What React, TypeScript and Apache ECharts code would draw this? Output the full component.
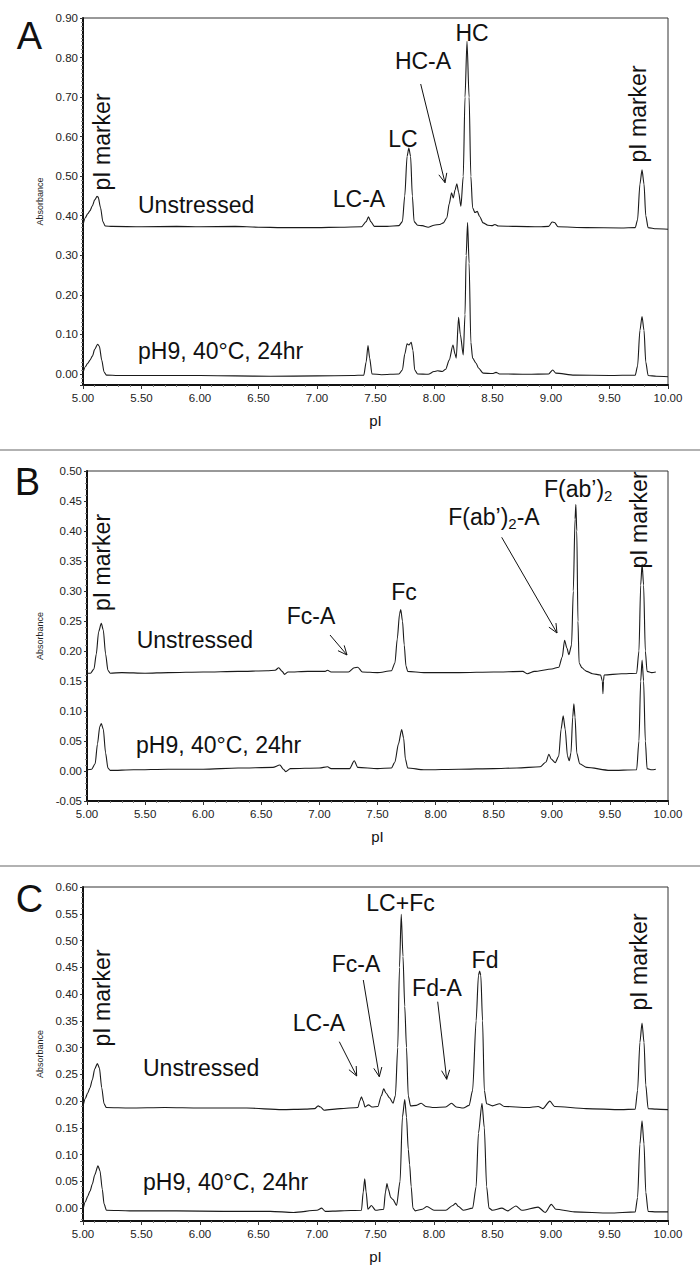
import React, { useEffect, useRef } from "react";
import * as echarts from "echarts";

const FONT = '"Liberation Sans", Arial, Helvetica, sans-serif';

// pI axis ticks
const xTicks = [5.0, 5.5, 6.0, 6.5, 7.0, 7.5, 8.0, 8.5, 9.0, 9.5, 10.0];

// Panel A traces [pI, absorbance]
const aUnstressed: number[][] = [
  [5.0, 0.377], [5.02, 0.395], [5.04, 0.405], [5.06, 0.413], [5.08, 0.425], [5.1, 0.44], [5.12, 0.449], [5.13, 0.447],
  [5.15, 0.42], [5.17, 0.385], [5.19, 0.374], [5.25, 0.373], [5.5, 0.372], [5.8, 0.373], [6.0, 0.372], [6.3, 0.373],
  [6.5, 0.371], [6.7, 0.37], [7.0, 0.37], [7.2, 0.371], [7.38, 0.372], [7.42, 0.385], [7.44, 0.397], [7.46, 0.385],
  [7.49, 0.373], [7.6, 0.373], [7.7, 0.375], [7.73, 0.385], [7.75, 0.45], [7.77, 0.55], [7.785, 0.571], [7.8, 0.55],
  [7.815, 0.45], [7.83, 0.385], [7.86, 0.376], [7.9, 0.375], [7.95, 0.371], [8.0, 0.376], [8.05, 0.378], [8.08, 0.382],
  [8.11, 0.395], [8.13, 0.43], [8.15, 0.458], [8.165, 0.445], [8.18, 0.465], [8.195, 0.481], [8.21, 0.46], [8.23, 0.424],
  [8.25, 0.5], [8.265, 0.7], [8.282, 0.841], [8.3, 0.7], [8.315, 0.5], [8.33, 0.42], [8.35, 0.408], [8.37, 0.411],
  [8.39, 0.398], [8.42, 0.382], [8.46, 0.376], [8.5, 0.375], [8.52, 0.378], [8.55, 0.374], [8.7, 0.373], [8.9, 0.372],
  [8.98, 0.373], [9.01, 0.384], [9.03, 0.383], [9.06, 0.372], [9.3, 0.37], [9.6, 0.369], [9.72, 0.37], [9.74, 0.39],
  [9.76, 0.48], [9.778, 0.516], [9.795, 0.48], [9.81, 0.4], [9.83, 0.37], [9.9, 0.367], [10.0, 0.366],
];
const aStressed: number[][] = [
  [5.0, 0.002], [5.02, 0.018], [5.04, 0.027], [5.06, 0.035], [5.08, 0.045], [5.1, 0.062], [5.125, 0.075], [5.14, 0.07],
  [5.16, 0.035], [5.18, 0.005], [5.2, -0.003], [5.3, -0.004], [5.6, -0.004], [6.0, -0.004], [6.3, -0.005], [6.6, -0.006],
  [7.0, -0.005], [7.3, -0.004], [7.4, -0.003], [7.42, 0.03], [7.436, 0.072], [7.45, 0.04], [7.47, 0.0], [7.55, -0.002],
  [7.7, 0.0], [7.73, 0.01], [7.75, 0.05], [7.77, 0.076], [7.785, 0.073], [7.805, 0.08], [7.82, 0.06], [7.835, 0.01],
  [7.86, 0.0], [7.95, -0.001], [8.0, 0.006], [8.03, 0.008], [8.07, 0.006], [8.1, 0.012], [8.13, 0.035], [8.162, 0.073],
  [8.18, 0.05], [8.19, 0.04], [8.21, 0.143], [8.225, 0.1], [8.25, 0.048], [8.265, 0.15], [8.275, 0.3], [8.287, 0.383],
  [8.3, 0.28], [8.315, 0.08], [8.33, 0.04], [8.36, 0.027], [8.38, 0.015], [8.42, 0.002], [8.5, 0.001], [8.53, 0.004],
  [8.56, 0.0], [8.8, -0.001], [8.98, 0.0], [9.015, 0.01], [9.04, 0.002], [9.2, -0.003], [9.5, -0.004], [9.72, -0.003],
  [9.74, 0.02], [9.76, 0.11], [9.778, 0.145], [9.795, 0.11], [9.81, 0.03], [9.83, -0.004], [9.9, -0.006], [10.0, -0.007],
];

// Panel B traces
const bUnstressed: number[][] = [
  [5.0, 0.163], [5.03, 0.163], [5.06, 0.17], [5.08, 0.195], [5.1, 0.232], [5.123, 0.246], [5.14, 0.235], [5.16, 0.195],
  [5.18, 0.168], [5.2, 0.163], [5.3, 0.164], [5.5, 0.163], [5.7, 0.164], [6.0, 0.165], [6.3, 0.166], [6.55, 0.167],
  [6.62, 0.168], [6.65, 0.172], [6.68, 0.166], [6.7, 0.161], [6.73, 0.165], [6.9, 0.166], [7.05, 0.166], [7.07, 0.168],
  [7.1, 0.165], [7.25, 0.165], [7.3, 0.172], [7.33, 0.173], [7.37, 0.165], [7.5, 0.164], [7.62, 0.167], [7.65, 0.18],
  [7.67, 0.22], [7.69, 0.262], [7.7, 0.269], [7.715, 0.25], [7.73, 0.21], [7.745, 0.175], [7.76, 0.166], [7.9, 0.164],
  [8.2, 0.164], [8.5, 0.165], [8.75, 0.166], [8.79, 0.162], [8.85, 0.166], [9.0, 0.17], [9.06, 0.173], [9.09, 0.19],
  [9.11, 0.218], [9.13, 0.205], [9.147, 0.194], [9.17, 0.21], [9.185, 0.3], [9.2, 0.42], [9.207, 0.444], [9.215, 0.4],
  [9.225, 0.25], [9.235, 0.18], [9.26, 0.172], [9.285, 0.168], [9.3, 0.166], [9.35, 0.162], [9.42, 0.16], [9.435, 0.15],
  [9.44, 0.129], [9.445, 0.15], [9.45, 0.16], [9.6, 0.162], [9.73, 0.163], [9.75, 0.2], [9.765, 0.31], [9.777, 0.345],
  [9.79, 0.31], [9.805, 0.2], [9.82, 0.166], [9.86, 0.164], [9.895, 0.165],
];
const bStressed: number[][] = [
  [5.0, 0.002], [5.04, 0.003], [5.07, 0.012], [5.09, 0.045], [5.11, 0.074], [5.123, 0.079], [5.14, 0.07], [5.16, 0.03],
  [5.18, 0.005], [5.2, 0.001], [5.4, 0.002], [5.7, 0.003], [6.0, 0.003], [6.3, 0.005], [6.6, 0.006], [6.66, 0.01],
  [6.69, 0.003], [6.71, -0.001], [6.75, 0.004], [7.0, 0.005], [7.07, 0.007], [7.1, 0.004], [7.26, 0.004], [7.3, 0.017],
  [7.33, 0.006], [7.5, 0.004], [7.62, 0.005], [7.65, 0.015], [7.68, 0.045], [7.708, 0.069], [7.725, 0.055], [7.74, 0.02],
  [7.76, 0.005], [7.9, 0.002], [8.2, 0.003], [8.5, 0.004], [8.7, 0.005], [8.9, 0.007], [8.95, 0.015], [8.975, 0.028],
  [8.995, 0.02], [9.03, 0.014], [9.06, 0.025], [9.08, 0.07], [9.098, 0.092], [9.115, 0.07], [9.135, 0.025], [9.15, 0.017],
  [9.165, 0.03], [9.18, 0.09], [9.19, 0.112], [9.2, 0.09], [9.215, 0.03], [9.24, 0.012], [9.3, 0.006], [9.5, 0.001],
  [9.73, 0.002], [9.75, 0.05], [9.765, 0.15], [9.777, 0.185], [9.79, 0.15], [9.805, 0.05], [9.82, 0.004], [9.86, 0.002],
  [9.895, 0.003],
];

// Panel C traces
const cUnstressed: number[][] = [
  [5.0, 0.19], [5.02, 0.205], [5.04, 0.215], [5.06, 0.225], [5.08, 0.24], [5.1, 0.26], [5.123, 0.27], [5.14, 0.262],
  [5.16, 0.225], [5.18, 0.195], [5.2, 0.188], [5.4, 0.187], [5.7, 0.188], [6.0, 0.187], [6.4, 0.187], [6.7, 0.184],
  [6.9, 0.185], [6.98, 0.186], [7.01, 0.191], [7.03, 0.189], [7.06, 0.183], [7.2, 0.186], [7.35, 0.188], [7.365, 0.2],
  [7.38, 0.208], [7.395, 0.2], [7.41, 0.189], [7.44, 0.193], [7.47, 0.189], [7.52, 0.19], [7.55, 0.21], [7.57, 0.223],
  [7.59, 0.215], [7.62, 0.206], [7.65, 0.196], [7.67, 0.21], [7.69, 0.3], [7.705, 0.45], [7.72, 0.549], [7.735, 0.47],
  [7.75, 0.377], [7.765, 0.3], [7.78, 0.21], [7.8, 0.191], [7.85, 0.192], [7.89, 0.196], [7.93, 0.19], [8.0, 0.188],
  [8.1, 0.189], [8.15, 0.196], [8.19, 0.189], [8.25, 0.187], [8.3, 0.192], [8.33, 0.22], [8.36, 0.35], [8.38, 0.435],
  [8.39, 0.443], [8.4, 0.435], [8.415, 0.35], [8.43, 0.22], [8.45, 0.195], [8.5, 0.191], [8.56, 0.195], [8.6, 0.19],
  [8.8, 0.188], [8.89, 0.19], [8.93, 0.186], [8.99, 0.2], [9.03, 0.19], [9.3, 0.186], [9.6, 0.184], [9.72, 0.185],
  [9.74, 0.22], [9.76, 0.31], [9.778, 0.346], [9.795, 0.31], [9.81, 0.23], [9.83, 0.186], [9.9, 0.185], [10.0, 0.184],
];
const cStressed: number[][] = [
  [5.0, -0.003], [5.02, 0.012], [5.04, 0.022], [5.06, 0.032], [5.08, 0.045], [5.1, 0.062], [5.128, 0.079], [5.145, 0.07],
  [5.165, 0.035], [5.18, 0.008], [5.2, -0.004], [5.4, -0.005], [5.8, -0.005], [6.2, -0.006], [6.6, -0.006], [6.8, -0.008],
  [7.0, -0.004], [7.04, 0.0], [7.07, -0.006], [7.2, -0.005], [7.38, -0.004], [7.395, 0.03], [7.408, 0.055], [7.42, 0.03],
  [7.435, -0.002], [7.465, 0.005], [7.5, -0.004], [7.57, -0.002], [7.585, 0.03], [7.598, 0.046], [7.61, 0.035], [7.63, 0.02],
  [7.65, 0.016], [7.68, 0.005], [7.71, 0.05], [7.73, 0.17], [7.75, 0.203], [7.765, 0.17], [7.78, 0.11], [7.792, 0.081],
  [7.805, 0.04], [7.82, 0.0], [7.84, -0.005], [7.9, -0.002], [7.94, 0.003], [8.0, -0.004], [8.1, -0.004], [8.16, 0.005],
  [8.185, 0.009], [8.21, 0.003], [8.25, -0.004], [8.33, 0.0], [8.36, 0.04], [8.38, 0.14], [8.41, 0.196], [8.43, 0.15],
  [8.45, 0.04], [8.47, 0.0], [8.5, -0.004], [8.58, 0.0], [8.63, -0.005], [8.7, 0.004], [8.75, -0.004], [8.89, 0.002],
  [8.95, -0.008], [9.003, 0.007], [9.04, -0.002], [9.2, -0.007], [9.5, -0.009], [9.72, -0.007], [9.74, 0.02], [9.76, 0.12],
  [9.778, 0.163], [9.795, 0.12], [9.81, 0.03], [9.83, -0.006], [9.9, -0.007], [10.0, -0.007],
];

// Axis ranges per panel
const yMin = [-0.028, -0.05, -0.024];
const yMax = [0.9, 0.5, 0.6];
const yStep = [0.1, 0.05, 0.05];
const yMinor = [10, 5, 5];

const traces = [
  [aUnstressed, aStressed],
  [bUnstressed, bStressed],
  [cUnstressed, cStressed],
];

const grids = [
  { left: 83, top: 18, right: 32, height: 367 },
  { left: 87, top: 471, right: 32, height: 330 },
  { left: 83, top: 887, right: 32, height: 334 },
];

function txt(text: string, x: number, y: number, opts: any = {}) {
  return {
    type: "text",
    x,
    y,
    rotation: opts.rot || 0,
    z: 10,
    style: {
      text,
      fill: "#111",
      fontSize: opts.size || 23,
      fontFamily: FONT,
      align: opts.align || "center",
      verticalAlign: "middle",
      rich: opts.rich,
    },
  };
}

function arrow(x1: number, y1: number, x2: number, y2: number) {
  const ang = Math.atan2(y2 - y1, x2 - x1);
  const L = 10;
  const s = 0.42;
  const p1 = [x2 - L * Math.cos(ang - s), y2 - L * Math.sin(ang - s)];
  const p2 = [x2 - L * Math.cos(ang + s), y2 - L * Math.sin(ang + s)];
  return [
    { type: "line", z: 10, shape: { x1, y1, x2, y2 }, style: { stroke: "#111", lineWidth: 1 } },
    { type: "polyline", z: 10, shape: { points: [p1, [x2, y2], p2] }, style: { stroke: "#111", lineWidth: 1, fill: null } },
  ];
}

const subRich = {
  a: { fontSize: 23, fontFamily: FONT, fill: "#111" },
  s: { fontSize: 15, fontFamily: FONT, fill: "#111", padding: [12, 0, 0, 0] },
};

export default function App() {
  const ref = useRef<HTMLDivElement>(null);
  useEffect(() => {
    if (!ref.current) return;
    const chart = echarts.init(ref.current, null, { renderer: "svg" });
    const fmtY = (i: number) => (v: number) =>
      Math.abs(v / yStep[i] - Math.round(v / yStep[i])) < 1e-6 ? v.toFixed(2) : "";

    const xAxis = grids.map((_, i) => ({
      type: "value",
      gridIndex: i,
      min: xTicks[0],
      max: xTicks[xTicks.length - 1],
      interval: 0.5,
      axisLine: { show: true, onZero: false, lineStyle: { color: "#111", width: 2 } },
      axisTick: { show: true, length: 4, lineStyle: { color: "#333" } },
      minorTick: { show: true, splitNumber: 5, length: 2, lineStyle: { color: "#777" } },
      splitLine: { show: false },
      axisLabel: { formatter: (v: number) => v.toFixed(2), fontSize: 11.5, color: "#222", fontFamily: FONT, margin: 7 },
      name: "pI",
      nameLocation: "middle",
      nameGap: 28,
      nameTextStyle: { fontSize: 15, color: "#111", fontFamily: FONT },
    }));
    const yAxis = grids.map((_, i) => ({
      type: "value",
      gridIndex: i,
      min: yMin[i],
      max: yMax[i],
      minInterval: yStep[i],
      maxInterval: yStep[i],
      axisLine: { show: true, onZero: false, lineStyle: { color: "#111", width: 2 } },
      axisTick: { show: true, length: 3, lineStyle: { color: "#333" } },
      minorTick: { show: true, splitNumber: yMinor[i], length: 2, lineStyle: { color: "#888" } },
      splitLine: { show: false },
      axisLabel: { formatter: fmtY(i), fontSize: 11.5, color: "#222", fontFamily: FONT, margin: 5, showMinLabel: true },
      name: "Absorbance",
      nameLocation: "middle",
      nameGap: 34,
      nameTextStyle: { fontSize: 9, color: "#222", fontFamily: FONT },
    }));
    const series: any[] = [];
    traces.forEach((pair, i) =>
      pair.forEach((d) =>
        series.push({
          type: "line",
          xAxisIndex: i,
          yAxisIndex: i,
          data: d,
          showSymbol: false,
          symbol: "none",
          smooth: 0.25,
          smoothMonotone: "x",
          lineStyle: { color: "#1a1a1a", width: 1.1 },
        })
      )
    );

    const graphic: any[] = [
      { type: "line", shape: { x1: 0, y1: 450, x2: 700, y2: 450 }, style: { stroke: "#999", lineWidth: 1.5 } },
      { type: "line", shape: { x1: 0, y1: 866, x2: 700, y2: 866 }, style: { stroke: "#999", lineWidth: 1.5 } },
      // Panel A
      txt("A", 29.5, 36, { size: 38 }),
      txt("pI marker", 102, 142, { rot: Math.PI / 2 }),
      txt("Unstressed", 138, 205, { align: "left" }),
      txt("pH9, 40°C, 24hr", 138, 350.5, { align: "left" }),
      txt("LC-A", 359, 199),
      txt("LC", 403, 139),
      txt("HC-A", 423, 61),
      txt("HC", 472, 33),
      txt("pI marker", 638, 114, { rot: Math.PI / 2 }),
      ...arrow(420.7, 84, 445, 182.7),
      // Panel B
      txt("B", 27.5, 482, { size: 38 }),
      txt("pI marker", 102, 562.5, { rot: Math.PI / 2 }),
      txt("Unstressed", 136.7, 640, { align: "left" }),
      txt("pH9, 40°C, 24hr", 136, 745, { align: "left" }),
      txt("Fc-A", 311, 616),
      ...arrow(330, 635, 347, 655),
      txt("Fc", 404, 592),
      txt("{a|F(ab’)}{s|2}{a|-A}", 448.3, 517, { align: "left", rich: subRich }),
      ...arrow(501.7, 537.3, 557, 633),
      txt("{a|F(ab’)}{s|2}", 544, 489, { align: "left", rich: subRich }),
      txt("pI marker", 639, 520, { rot: Math.PI / 2 }),
      // Panel C
      txt("C", 29.5, 899, { size: 38 }),
      txt("pI marker", 102, 998, { rot: Math.PI / 2 }),
      txt("Unstressed", 143, 1068, { align: "left" }),
      txt("pH9, 40°C, 24hr", 143, 1182, { align: "left" }),
      txt("LC-A", 319, 1023),
      ...arrow(339.3, 1041.7, 356.7, 1076),
      txt("Fc-A", 356, 964),
      ...arrow(363.3, 980, 379.3, 1076.7),
      txt("LC+Fc", 400.5, 902.5),
      txt("Fd-A", 437, 988),
      ...arrow(437.7, 1001.7, 446.7, 1079.3),
      txt("Fd", 485, 959.5),
      txt("pI marker", 639, 962, { rot: Math.PI / 2 }),
    ];

    chart.setOption({
      animation: false,
      backgroundColor: "#fff",
      grid: grids.map((g) => ({ ...g, show: true, borderColor: "#333", borderWidth: 1, backgroundColor: "transparent" })),
      xAxis,
      yAxis,
      series,
      graphic,
    });
    return () => chart.dispose();
  }, []);
  return <div ref={ref} style={{ position: "absolute", left: 0, top: 0, width: 700, height: 1283 }} />;
}
